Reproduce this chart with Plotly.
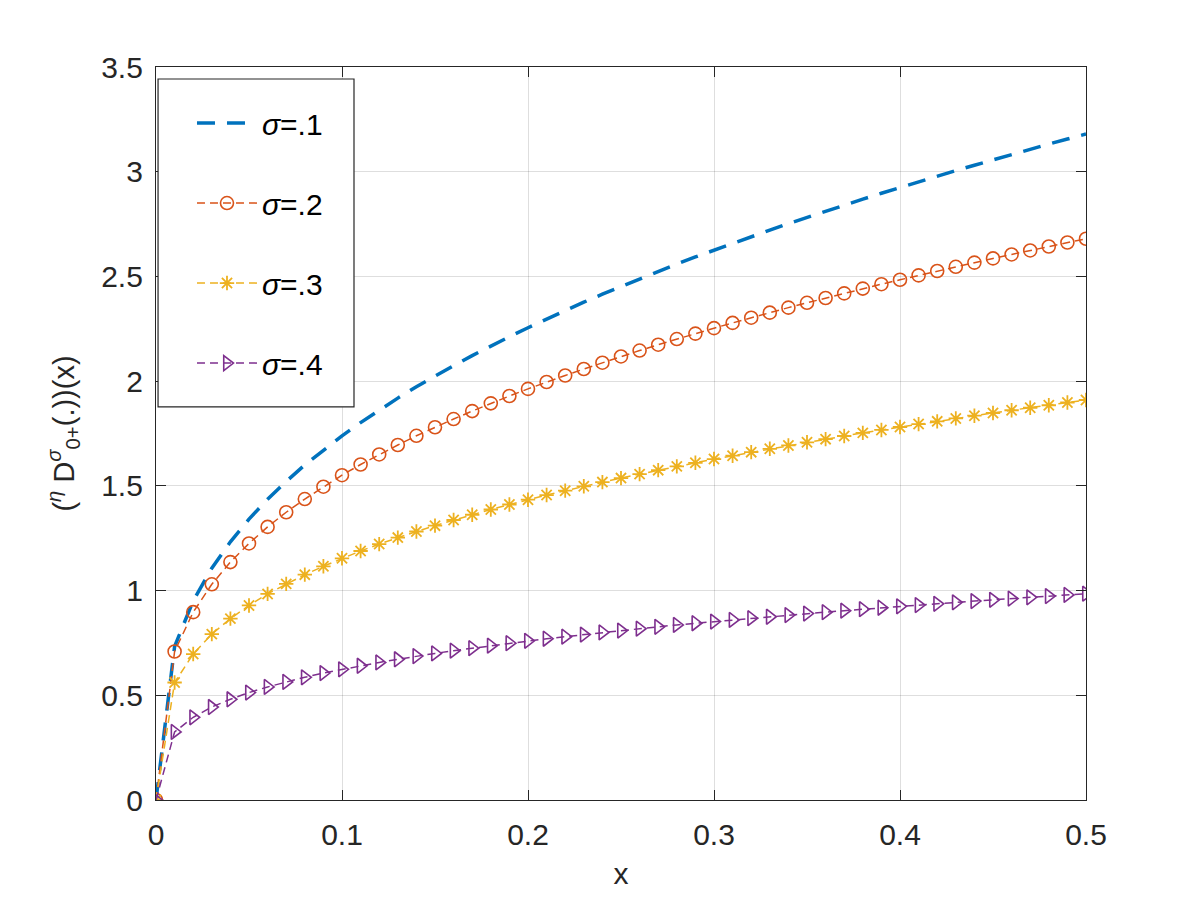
import plotly.graph_objects as go

x_vals = [i / 100 for i in range(51)]

y_s1 = [0, 0.733, 0.951, 1.107, 1.233, 1.341, 1.436, 1.521, 1.600, 1.672, 1.739,
        1.802, 1.862, 1.919, 1.973, 2.025, 2.074, 2.122, 2.168, 2.212, 2.255,
        2.297, 2.337, 2.377, 2.415, 2.452, 2.489, 2.524, 2.559, 2.593, 2.626,
        2.658, 2.690, 2.721, 2.752, 2.782, 2.812, 2.841, 2.869, 2.897, 2.925,
        2.952, 2.979, 3.005, 3.031, 3.057, 3.082, 3.107, 3.132, 3.156, 3.180]

y_s2 = [0, 0.709, 0.897, 1.030, 1.136, 1.225, 1.304, 1.374, 1.437, 1.496, 1.551,
        1.602, 1.650, 1.695, 1.739, 1.780, 1.819, 1.857, 1.894, 1.929, 1.963,
        1.996, 2.027, 2.058, 2.088, 2.118, 2.146, 2.174, 2.201, 2.227, 2.253,
        2.278, 2.303, 2.327, 2.351, 2.374, 2.397, 2.419, 2.442, 2.463, 2.484,
        2.505, 2.526, 2.546, 2.566, 2.586, 2.605, 2.624, 2.643, 2.662, 2.680]

y_s3 = [0, 0.561, 0.697, 0.792, 0.866, 0.929, 0.984, 1.032, 1.076, 1.116, 1.154,
        1.189, 1.222, 1.253, 1.282, 1.310, 1.337, 1.362, 1.387, 1.411, 1.434,
        1.456, 1.477, 1.498, 1.518, 1.537, 1.556, 1.575, 1.593, 1.610, 1.628,
        1.644, 1.661, 1.677, 1.693, 1.708, 1.723, 1.738, 1.753, 1.767, 1.781,
        1.795, 1.808, 1.822, 1.835, 1.848, 1.861, 1.873, 1.885, 1.898, 1.910]

y_s4 = [0, 0.325, 0.395, 0.444, 0.481, 0.513, 0.540, 0.564, 0.586, 0.606, 0.624,
        0.641, 0.657, 0.672, 0.687, 0.700, 0.713, 0.725, 0.737, 0.749, 0.760,
        0.770, 0.780, 0.790, 0.800, 0.809, 0.818, 0.827, 0.836, 0.844, 0.852,
        0.860, 0.868, 0.875, 0.883, 0.890, 0.897, 0.904, 0.911, 0.918, 0.925,
        0.931, 0.937, 0.944, 0.950, 0.956, 0.962, 0.968, 0.974, 0.979, 0.985]

names = ["<i>σ</i>=.1", "<i>σ</i>=.2", "<i>σ</i>=.3", "<i>σ</i>=.4"]
x_ticks = [0, 0.1, 0.2, 0.3, 0.4, 0.5]
x_tick_labels = ["0", "0.1", "0.2", "0.3", "0.4", "0.5"]
y_ticks = [0, 0.5, 1, 1.5, 2, 2.5, 3, 3.5]
y_tick_labels = ["0", "0.5", "1", "1.5", "2", "2.5", "3", "3.5"]

FONT = "Arial, Liberation Sans, Helvetica, sans-serif"
THIN_DASH = "8px,5px"

fig = go.Figure()
fig.add_trace(go.Scatter(x=x_vals, y=y_s1, mode="lines", name=names[0],
                         legendgroup="g1",
                         line=dict(color="#0072BD", width=3.5, dash="18px,12px")))
fig.add_trace(go.Scatter(x=x_vals, y=y_s2, mode="lines+markers", name=names[1],
                         legendgroup="g2",
                         line=dict(color="#D95319", width=1.5, dash=THIN_DASH),
                         marker=dict(symbol="circle-open", size=13,
                                     color="#D95319", line=dict(width=1.6))))
fig.add_trace(go.Scatter(x=x_vals, y=y_s3, mode="lines+markers", name=names[2],
                         legendgroup="g3",
                         line=dict(color="#EDB120", width=1.5, dash=THIN_DASH),
                         marker=dict(symbol="asterisk-open", size=12,
                                     color="#EDB120", line=dict(width=1.8, color="#EDB120"))))
fig.add_trace(go.Scatter(x=x_vals, y=y_s4, mode="lines+markers", name=names[3],
                         legendgroup="g4",
                         line=dict(color="#7E2F8E", width=1.5, dash=THIN_DASH),
                         marker=dict(symbol="triangle-right-open", size=13,
                                     color="#7E2F8E", line=dict(width=1.6))))

axis_common = dict(
    showline=True, linecolor="#262626", linewidth=1.2, mirror="ticks",
    ticks="inside", ticklen=10, tickwidth=1.2, tickcolor="#262626",
    showgrid=True, gridcolor="rgba(0,0,0,0.13)", gridwidth=1,
    zeroline=False,
    tickfont=dict(family=FONT, size=30, color="#262626"),
)

fig.update_xaxes(range=[0, 0.5], tickvals=x_ticks, ticktext=x_tick_labels,
                 title=dict(text="x", font=dict(family=FONT, size=30, color="#262626"),
                            standoff=12),
                 ticklabelstandoff=8,
                 **axis_common)
fig.update_yaxes(range=[0, 3.5], tickvals=y_ticks, ticktext=y_tick_labels,
                 title=dict(text="(<sup><i>η</i></sup> D<sup><i>σ</i></sup><sub>0+</sub>(.))(x)",
                            font=dict(family=FONT, size=29, color="#262626"),
                            standoff=18),
                 ticklabelstandoff=6,
                 **axis_common)

# legend box (drawn as a shape so its size matches the reference)
fig.add_shape(type="rect", xref="paper", yref="paper",
              x0=0.0022, x1=0.2129, y0=0.5362, y1=0.9836,
              line=dict(color="#262626", width=1.2),
              fillcolor="white", layer="above")

fig.update_layout(
    width=1200, height=900,
    margin=dict(l=156, r=114, t=67, b=100),
    paper_bgcolor="white", plot_bgcolor="white",
    font=dict(family=FONT, size=30, color="#262626"),
    legend=dict(x=0.0387, y=0.959, xanchor="left", yanchor="top",
                bgcolor="rgba(0,0,0,0)", borderwidth=0,
                font=dict(family=FONT, size=30, color="#000000"),
                tracegroupgap=38, itemwidth=60),
    showlegend=True,
)

fig.write_html("out.html")
